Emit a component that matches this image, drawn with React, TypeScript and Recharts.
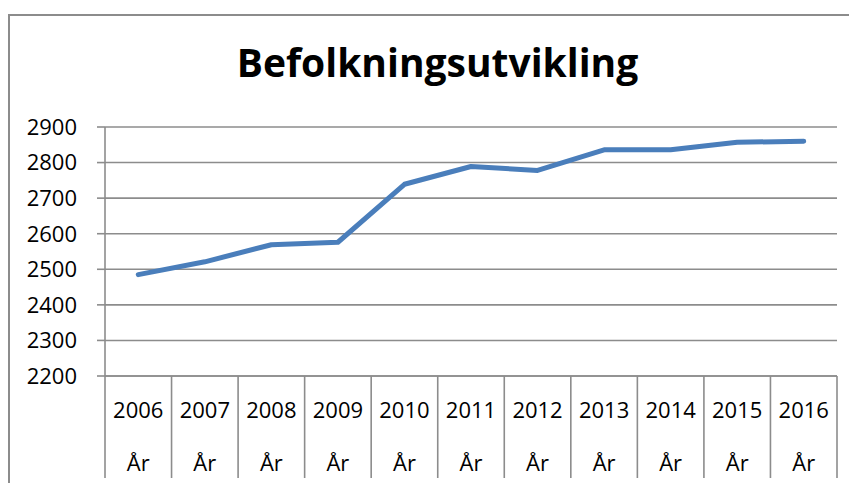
import { LineChart, Line, XAxis, YAxis, CartesianGrid } from "recharts";

const years = ["2006", "2007", "2008", "2009", "2010", "2011", "2012", "2013", "2014", "2015", "2016"];
const population = [2485, 2521, 2569, 2576, 2739, 2789, 2778, 2836, 2836, 2857, 2860];
const yTicks = [2200, 2300, 2400, 2500, 2600, 2700, 2800, 2900];
const unitLabel = "År";
const title = "Befolkningsutvikling";

const chartData = years.map((year, i) => ({ year, value: population[i] }));

const FONT = "'Open Sans', sans-serif";
const GRID = "#8c8c8c";

function YearTick(props: any) {
  const { x, y, payload, index } = props;
  const off = payload?.offset ?? 33.27;
  const last = index === years.length - 1;
  return (
    <g>
      <line x1={x - off} y1={y} x2={x - off} y2={y + 102} stroke={GRID} strokeWidth={1.6} />
      {last && <line x1={x + off} y1={y} x2={x + off} y2={y + 102} stroke={GRID} strokeWidth={1.6} />}
      <text x={x} y={y + 42} textAnchor="middle" fontFamily={FONT} fontSize={22} fill="#000">
        {payload.value}
      </text>
      <text x={x} y={y + 95} textAnchor="middle" fontFamily={FONT} fontSize={22} fill="#000">
        {unitLabel}
      </text>
    </g>
  );
}

export default function App() {
  return (
    <div style={{ position: "relative", width: 849, height: 475, overflow: "hidden", background: "#fff" }}>
      <div
        style={{
          position: "absolute",
          left: 0,
          top: 6,
          width: 870,
          height: 500,
          border: `2px solid ${GRID}`,
          boxSizing: "border-box",
        }}
      />
      <div style={{ position: "absolute", left: 0, top: 0 }}>
        <LineChart width={849} height={475} data={chartData} margin={{ top: 119, right: 20, bottom: 0, left: 0 }}>
          <CartesianGrid horizontal vertical={false} stroke={GRID} strokeWidth={1.6} />
          <XAxis
            dataKey="year"
            scale="band"
            interval={0}
            height={107}
            tickSize={0}
            tickMargin={0}
            tickLine={false}
            axisLine={{ stroke: GRID, strokeWidth: 1.6 }}
            tick={<YearTick />}
          />
          <YAxis
            width={97}
            domain={[2200, 2900]}
            ticks={yTicks}
            interval={0}
            tickSize={8}
            tickMargin={20}
            axisLine={{ stroke: GRID, strokeWidth: 1.6 }}
            tickLine={{ stroke: GRID, strokeWidth: 1.6 }}
            tick={{ fill: "#000", fontSize: 22, fontFamily: FONT }}
          />
          <Line
            type="linear"
            dataKey="value"
            stroke="#4A7EBB"
            strokeWidth={5}
            strokeLinecap="round"
            strokeLinejoin="round"
            dot={false}
            activeDot={false}
            isAnimationActive={false}
          />
        </LineChart>
      </div>
      <svg style={{ position: "absolute", left: 0, top: 0 }} width={849} height={100}>
        <text x={429.5} y={69} textAnchor="middle" fontFamily={FONT} fontWeight={700} fontSize={39} fill="#000">
          {title}
        </text>
      </svg>
    </div>
  );
}
